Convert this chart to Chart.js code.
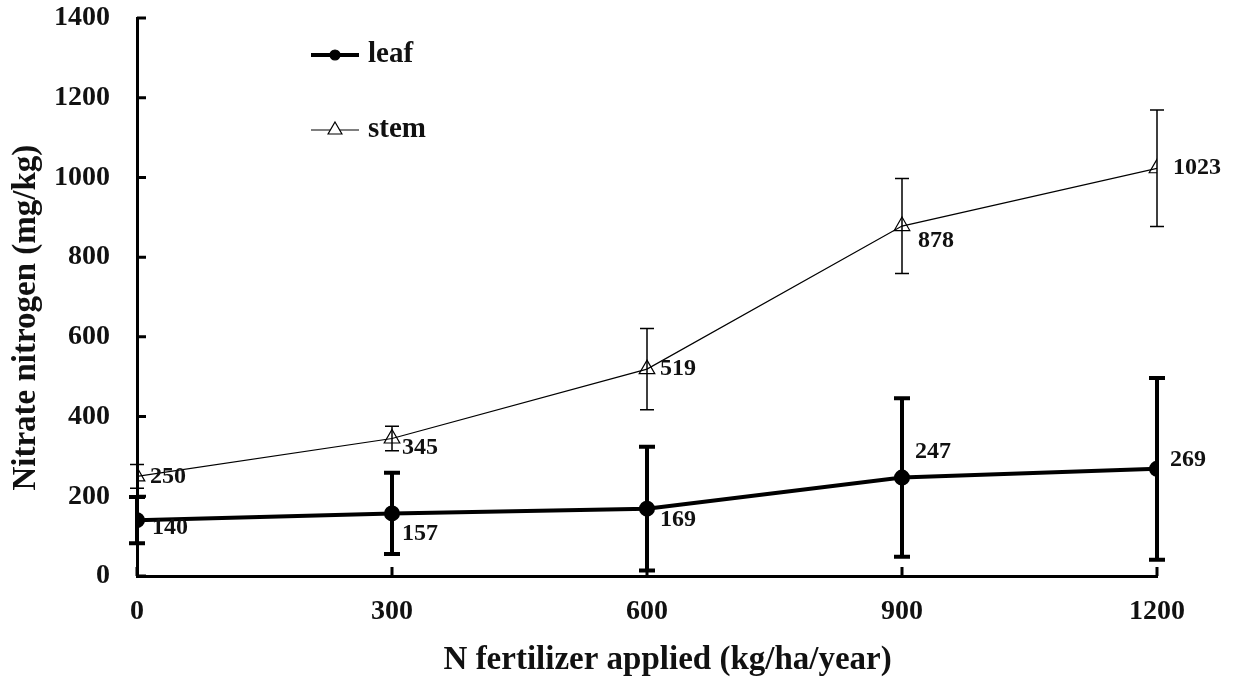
<!DOCTYPE html>
<html>
<head>
<meta charset="utf-8">
<script src="https://cdn.jsdelivr.net/npm/chart.js@4.4.1/dist/chart.umd.min.js"></script>
<style>
  html, body { margin: 0; padding: 0; background: #fff; }
  #wrap { width: 1235px; height: 677px; }
</style>
</head>
<body>
<div id="wrap"><canvas id="nitrate"></canvas></div>
<script>
// data
const nRates = [0, 300, 600, 900, 1200];
const leafMean = [140, 157, 169, 247, 269];
const leafErr = [58, 102, 155, 199, 228];
const stemMean = [250, 345, 519, 878, 1023];
const stemErr = [30, 31, 102, 119, 146];
const xTicks = [0, 300, 600, 900, 1200];
const yTicks = [0, 200, 400, 600, 800, 1000, 1200, 1400];

// where each value label sits relative to its point (px)
const leafLabelOff = [[15, 8], [10, 20], [13, 11], [13, -26], [13, -9]];
const stemLabelOff = [[13, 0], [10, 9], [13, 0], [16, 15], [16, 0]];

const serif = "'Liberation Serif', 'Times New Roman', serif";
const nb = '\u00a0\u00a0\u00a0\u00a0\u00a0'; // nudges the axis titles off centre like the original

function pts(ys) {
  return nRates.map((x, i) => ({ x: x, y: ys[i] }));
}

// error bars, value labels, inward ticks and the legend box
const extras = {
  id: 'extras',
  afterDatasetsDraw(chart) {
    const ctx = chart.ctx;
    const xs = chart.scales.x, ys = chart.scales.y;
    const area = chart.chartArea;

    function bars(means, errs, lw, cap) {
      ctx.save();
      ctx.strokeStyle = '#000';
      ctx.lineWidth = lw;
      for (let i = 0; i < means.length; i++) {
        const px = xs.getPixelForValue(nRates[i]);
        const top = ys.getPixelForValue(means[i] + errs[i]);
        const bot = ys.getPixelForValue(means[i] - errs[i]);
        ctx.beginPath();
        ctx.moveTo(px, top); ctx.lineTo(px, bot);
        ctx.moveTo(px - cap, top); ctx.lineTo(px + cap, top);
        ctx.moveTo(px - cap, bot); ctx.lineTo(px + cap, bot);
        ctx.stroke();
      }
      ctx.restore();
    }
    bars(stemMean, stemErr, 1.5, 7);
    bars(leafMean, leafErr, 4, 8);

    function labels(means, offs) {
      ctx.save();
      ctx.fillStyle = '#111';
      ctx.font = 'bold 24px ' + serif;
      ctx.textAlign = 'left';
      ctx.textBaseline = 'middle';
      for (let i = 0; i < means.length; i++) {
        const px = xs.getPixelForValue(nRates[i]);
        const py = ys.getPixelForValue(means[i]);
        ctx.fillText(String(means[i]), px + offs[i][0], py + offs[i][1]);
      }
      ctx.restore();
    }
    labels(leafMean, leafLabelOff);
    labels(stemMean, stemLabelOff);

    // ticks point into the plot
    ctx.save();
    ctx.strokeStyle = '#000';
    ctx.lineWidth = 3;
    ctx.beginPath();
    xTicks.forEach(v => {
      const px = xs.getPixelForValue(v);
      ctx.moveTo(px, area.bottom); ctx.lineTo(px, area.bottom - 9);
    });
    yTicks.forEach(v => {
      const py = ys.getPixelForValue(v);
      ctx.moveTo(area.left, py); ctx.lineTo(area.left + 9, py);
    });
    ctx.stroke();
    ctx.restore();

    // legend
    const rows = [55, 130];
    chart.data.datasets.forEach((ds, k) => {
      const y = rows[k];
      ctx.save();
      ctx.strokeStyle = '#000';
      ctx.lineWidth = ds.borderWidth;
      ctx.beginPath();
      ctx.moveTo(311, y); ctx.lineTo(359, y);
      ctx.stroke();
      ctx.fillStyle = k === 0 ? '#000' : '#fff';
      ctx.lineWidth = 1.2;
      Chart.helpers.drawPoint(ctx, {
        pointStyle: ds.pointStyle,
        radius: k === 0 ? 5 : 8,
        borderWidth: 1.2,
        rotation: 0
      }, 335, y);
      ctx.fillStyle = '#111';
      ctx.font = 'bold 29px ' + serif;
      ctx.textBaseline = 'middle';
      ctx.fillText(ds.label, 368, y);
      ctx.restore();
    });
  }
};

const plain = v => String(v);

new Chart(document.getElementById('nitrate'), {
  type: 'line',
  data: {
    datasets: [{
      label: 'leaf',
      data: pts(leafMean),
      borderColor: '#000',
      backgroundColor: '#000',
      borderWidth: 4,
      pointStyle: 'circle',
      pointRadius: 6,
      pointBackgroundColor: '#000',
      pointBorderColor: '#000',
      tension: 0
    }, {
      label: 'stem',
      data: pts(stemMean),
      borderColor: '#000',
      backgroundColor: '#fff',
      borderWidth: 1.2,
      pointStyle: 'triangle',
      pointRadius: 9,
      pointBackgroundColor: 'rgba(255,255,255,0)',
      pointBorderColor: '#000',
      pointBorderWidth: 1.2,
      tension: 0
    }]
  },
  options: {
    responsive: true,
    maintainAspectRatio: false,
    animation: false,
    layout: { padding: { top: 18, right: 78, left: 0, bottom: 0 } },
    plugins: {
      legend: { display: false },
      tooltip: { enabled: false }
    },
    scales: {
      x: {
        type: 'linear',
        min: 0,
        max: 1200,
        afterBuildTicks: s => { s.ticks = xTicks.map(v => ({ value: v })); },
        afterFit: s => { s.height = 101; s.paddingLeft = 0; s.paddingRight = 0; },
        grid: { display: true, drawOnChartArea: false, drawTicks: false },
        border: { display: true, color: '#000', width: 3 },
        ticks: {
          color: '#111',
          padding: 19,
          maxRotation: 0,
          callback: plain,
          font: { size: 28, weight: 'bold', family: serif }
        },
        title: {
          display: true,
          text: nb + 'N fertilizer applied (kg/ha/year)',
          color: '#111',
          padding: { top: 0, bottom: 0 },
          font: { size: 33, weight: 'bold', family: serif, lineHeight: 1 }
        }
      },
      y: {
        min: 0,
        max: 1400,
        afterBuildTicks: s => { s.ticks = yTicks.map(v => ({ value: v })); },
        afterFit: s => { s.width = 137; s.paddingTop = 0; s.paddingBottom = 0; },
        grid: { display: true, drawOnChartArea: false, drawTicks: false },
        border: { display: true, color: '#000', width: 3 },
        ticks: {
          color: '#111',
          padding: 27,
          callback: plain,
          font: { size: 28, weight: 'bold', family: serif }
        },
        title: {
          display: true,
          text: 'Nitrate nitrogen (mg/kg)' + nb,
          color: '#111',
          padding: { top: 10, bottom: 0 },
          font: { size: 33, weight: 'bold', family: serif, lineHeight: 1 }
        }
      }
    }
  },
  plugins: [extras]
});
</script>
</body>
</html>
